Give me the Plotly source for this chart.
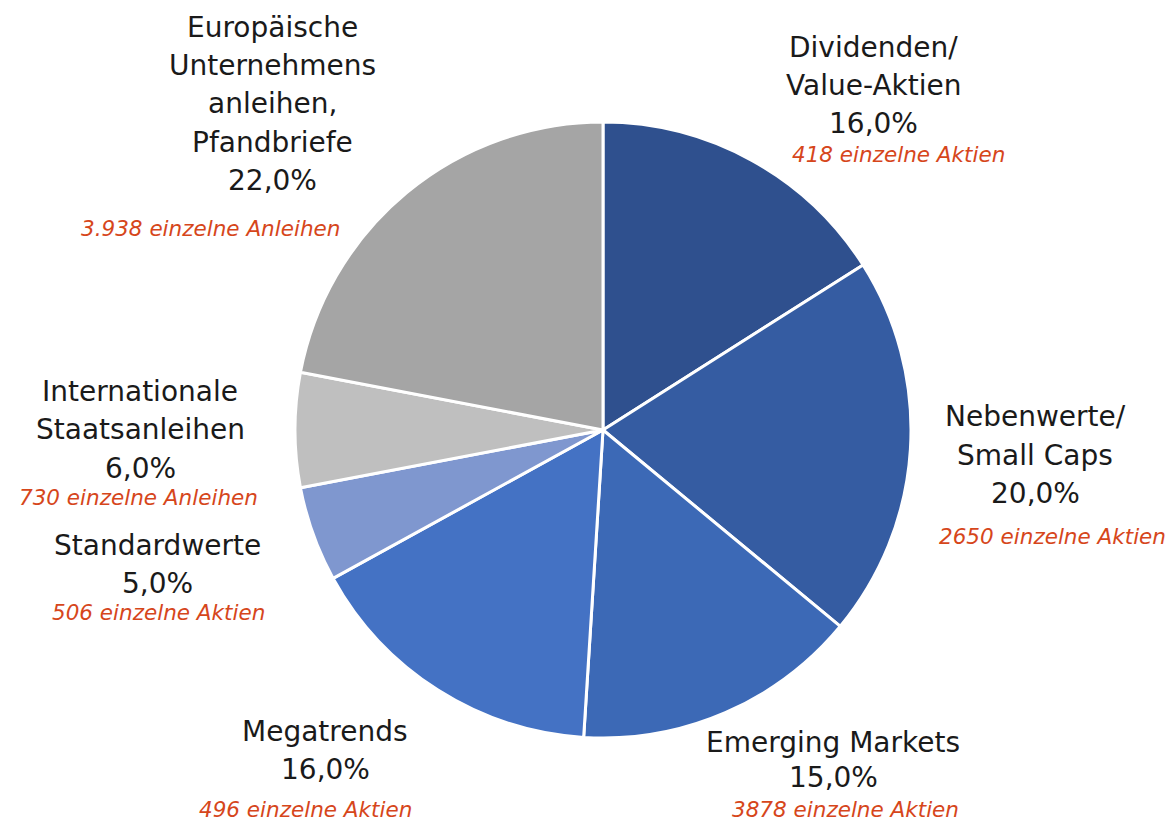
import plotly.graph_objects as go

W, H = 1175, 824
OFF = 8  # default page body margin in the browser

categories = ["Dividenden/<br>Value-Aktien", "Nebenwerte/<br>Small Caps", "Emerging Markets",
              "Megatrends", "Standardwerte", "Internationale<br>Staatsanleihen",
              "Europäische<br>Unternehmens<br>anleihen,<br>Pfandbriefe"]
values = [16.0, 20.0, 15.0, 16.0, 5.0, 6.0, 22.0]
counts = ["418 einzelne Aktien", "2650 einzelne Aktien", "3878 einzelne Aktien",
          "496 einzelne Aktien", "506 einzelne Aktien", "730 einzelne Anleihen",
          "3.938 einzelne Anleihen"]
colors = ["#2F508E", "#355CA2", "#3C69B6", "#4472C4", "#7F97CF", "#BFBFBF", "#A5A5A5"]

# label layout (pixel positions): x center, y of first line, line spacing, red line x, red line y
label_pos = [
    (873, 47, 38.5, 898, 154),
    (1035, 417, 38.5, 1052, 536),
    (833, 742, 35, 845, 809),
    (325, 731, 38.5, 305, 809),
    (157, 545, 38.5, 158, 612),
    (140, 391, 38.5, 138, 498),
    (272, 27, 38.5, 210, 228),
]

cx, cy, r = 603 - OFF, 430 - OFF, 308

fig = go.Figure(go.Pie(
    labels=[c.replace("<br>", " ") for c in categories],
    values=values,
    sort=False,
    direction="clockwise",
    rotation=0,
    textinfo="none",
    hoverinfo="label+percent",
    marker=dict(colors=colors, line=dict(color="white", width=3)),
    domain=dict(x=[(cx - r) / W, (cx + r) / W], y=[(H - cy - r) / H, (H - cy + r) / H]),
    showlegend=False,
))

def px(x):
    return (x - OFF) / W

def py(y):
    return 1 - (y - OFF) / H

FONT = "'DejaVu Sans', sans-serif"
annotations = []
for cat, val, cnt, (x, y0, step, rx, ry) in zip(categories, values, counts, label_pos):
    lines = cat.split("<br>") + [f"{val:.1f}%".replace(".", ",")]
    for i, ln in enumerate(lines):
        annotations.append(dict(
            x=px(x), y=py(y0 + i * step), xref="paper", yref="paper",
            text=ln, showarrow=False, xanchor="center", yanchor="middle",
            font=dict(family=FONT, size=28, color="#1a1a1a"),
        ))
    annotations.append(dict(
        x=px(rx), y=py(ry), xref="paper", yref="paper",
        text=f"<i>{cnt}</i>", showarrow=False, xanchor="center", yanchor="middle",
        font=dict(family=FONT, size=21.5, color="#D6461B"),
    ))

fig.update_layout(
    width=W, height=H,
    margin=dict(l=0, r=0, t=0, b=0),
    paper_bgcolor="white", plot_bgcolor="white",
    annotations=annotations,
)

fig.write_html("out.html")
